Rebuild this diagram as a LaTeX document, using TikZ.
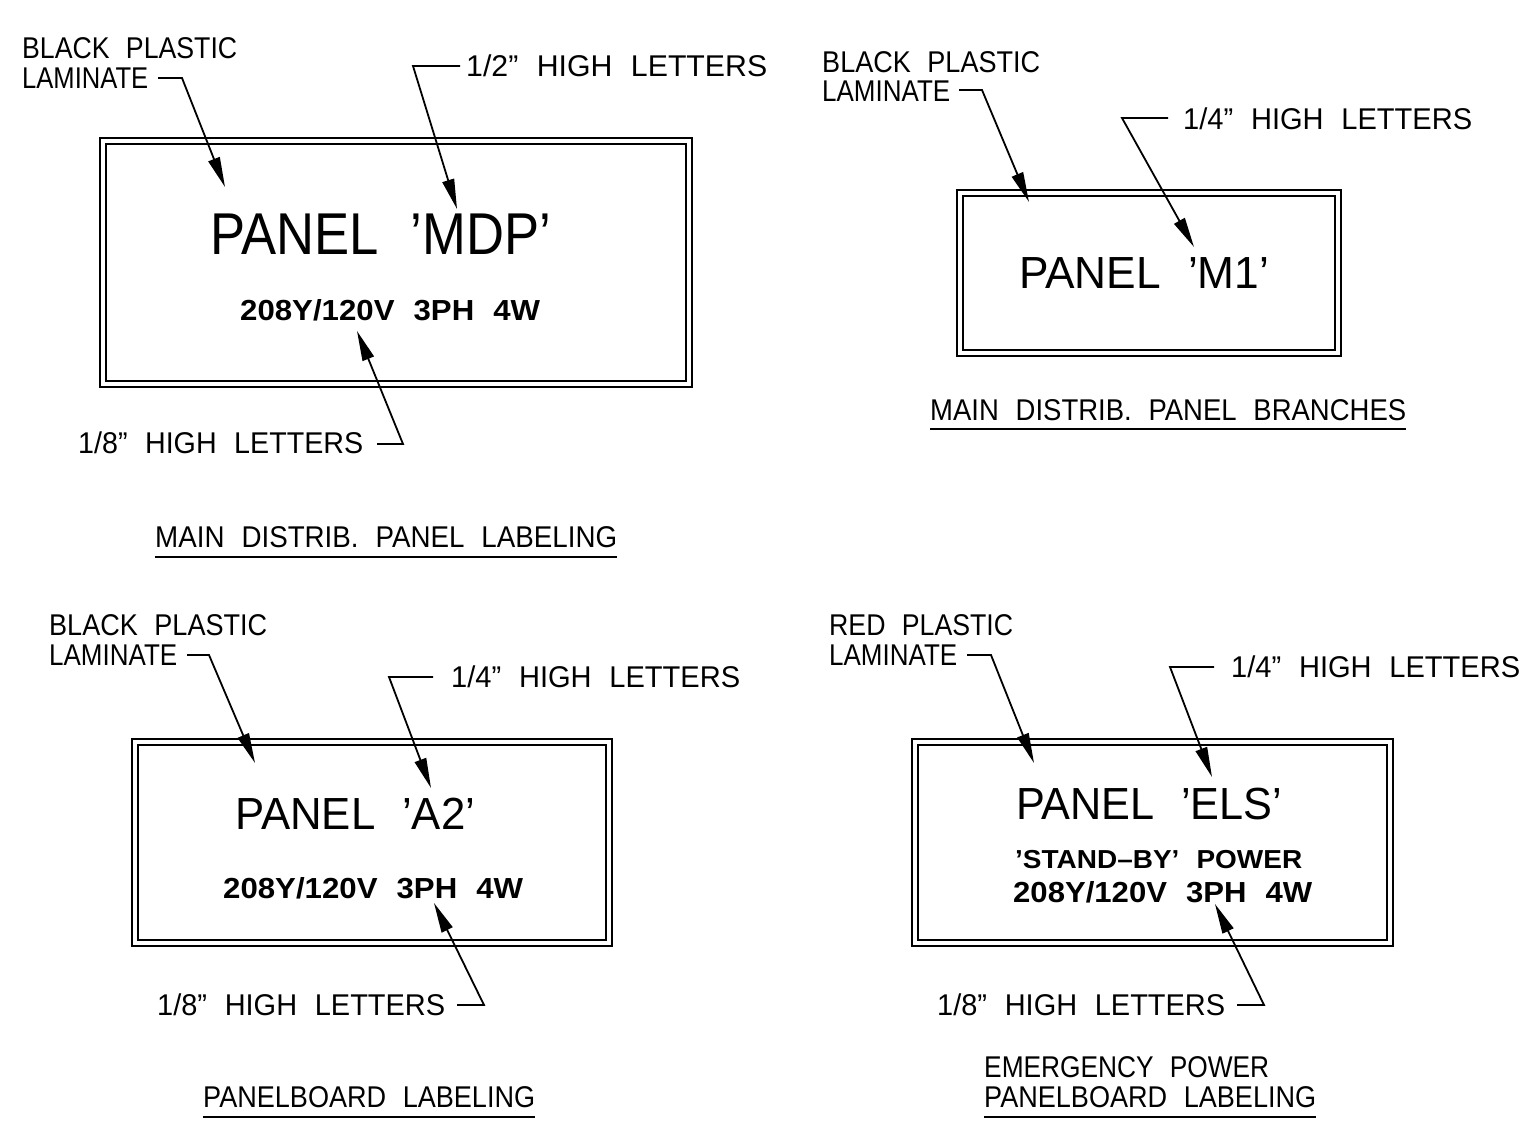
\documentclass[tikz,border=0pt]{standalone}
\usepackage{fontspec}
\setmainfont{Liberation Sans}[WordSpace=2.2]
\usetikzlibrary{arrows.meta}
\newcommand\fitw[2]{\resizebox{#1pt}{\height}{#2}}
\begin{document}
\begin{tikzpicture}[x=1pt,y=-1pt,
  lbl/.style={inner sep=0pt, anchor=base west, font=\fontsize{30}{30}\selectfont},
  boldlbl/.style={lbl, font=\fontsize{29}{29}\selectfont\bfseries},
  standby/.style={lbl, font=\fontsize{26}{26}\selectfont\bfseries},
  titleA/.style={lbl, font=\fontsize{59}{59}\selectfont},
  titleB/.style={lbl, font=\fontsize{45}{45}\selectfont},
  outerbox/.style={draw, line width=2.6pt},
  innerbox/.style={draw, line width=1.5pt},
  leader/.style={line width=1.8pt, -{Triangle[length=30pt,width=12pt]}},
  uline/.style={line width=1.8pt}]
\useasboundingbox[fill=white] (0,0) rectangle (1537,1141);

% ---------------- Panel MDP ----------------
\draw[outerbox] (100,138) rectangle (692,387);
\draw[innerbox] (106,144) rectangle (686,381);
\node[lbl] (bp1) at (22,58) {\fitw{215}{BLACK PLASTIC}};
\node[lbl] (lam1) at (22,88) {\fitw{126}{LAMINATE}};
\coordinate (a1s) at (158,78); \coordinate (a1b) at (182,78); \coordinate (a1t) at (225,187);
\draw[leader] (a1s) -- (a1b) -- (a1t);
\node[lbl] (hl1) at (466,76) {\fitw{301}{1/2” HIGH LETTERS}};
\coordinate (b1s) at (460,66); \coordinate (b1b) at (413,66); \coordinate (b1t) at (457,209);
\draw[leader] (b1s) -- (b1b) -- (b1t);
\node[titleA] (t1) at (210,254) {\fitw{341}{PANEL ’MDP’}};
\node[boldlbl] (v1) at (240,320) {\fitw{300}{208Y/120V 3PH 4W}};
\node[lbl] (el1) at (78,453) {\fitw{285}{1/8” HIGH LETTERS}};
\coordinate (c1s) at (377,444); \coordinate (c1b) at (403,444); \coordinate (c1t) at (357,331);
\draw[leader] (c1s) -- (c1b) -- (c1t);
\node[lbl] (cap1) at (155,547) {\fitw{462}{MAIN DISTRIB. PANEL LABELING}};
\draw[uline] (cap1.base west) ++(0,10) coordinate (u1a) -- ++(462,0) coordinate (u1b);

% ---------------- Panel M1 ----------------
\draw[outerbox] (957,190) rectangle (1341,356);
\draw[innerbox] (963,196) rectangle (1335,350);
\node[lbl] (bp2) at (822,72) {\fitw{218}{BLACK PLASTIC}};
\node[lbl] (lam2) at (822,101) {\fitw{128}{LAMINATE}};
\coordinate (a2s) at (959,90); \coordinate (a2b) at (982,90); \coordinate (a2t) at (1029,202);
\draw[leader] (a2s) -- (a2b) -- (a2t);
\node[lbl] (hl2) at (1183,129) {\fitw{289}{1/4” HIGH LETTERS}};
\coordinate (b2s) at (1168,118); \coordinate (b2b) at (1122,118); \coordinate (b2t) at (1194,247);
\draw[leader] (b2s) -- (b2b) -- (b2t);
\node[titleB] (t2) at (1019,288) {\fitw{250}{PANEL ’M1’}};
\node[lbl] (cap2) at (930,420) {\fitw{476}{MAIN DISTRIB. PANEL BRANCHES}};
\draw[uline] (cap2.base west) ++(0,9) coordinate (u2a) -- ++(476,0) coordinate (u2b);

% ---------------- Panel A2 ----------------
\draw[outerbox] (132,739) rectangle (612,946);
\draw[innerbox] (138,745) rectangle (606,940);
\node[lbl] (bp3) at (49,635) {\fitw{218}{BLACK PLASTIC}};
\node[lbl] (lam3) at (49,665) {\fitw{128}{LAMINATE}};
\coordinate (a3s) at (187,655); \coordinate (a3b) at (209,655); \coordinate (a3t) at (255,763);
\draw[leader] (a3s) -- (a3b) -- (a3t);
\node[lbl] (hl3) at (451,687) {\fitw{289}{1/4” HIGH LETTERS}};
\coordinate (b3s) at (433,677); \coordinate (b3b) at (389,677); \coordinate (b3t) at (431,788);
\draw[leader] (b3s) -- (b3b) -- (b3t);
\node[titleB] (t3) at (235,829) {\fitw{240}{PANEL ’A2’}};
\node[boldlbl] (v3) at (223,898) {\fitw{300}{208Y/120V 3PH 4W}};
\node[lbl] (el3) at (157,1015) {\fitw{288}{1/8” HIGH LETTERS}};
\coordinate (c3s) at (457,1005); \coordinate (c3b) at (484,1005); \coordinate (c3t) at (434,903);
\draw[leader] (c3s) -- (c3b) -- (c3t);
\node[lbl] (cap3) at (203,1107) {\fitw{332}{PANELBOARD LABELING}};
\draw[uline] (cap3.base west) ++(0,10) coordinate (u3a) -- ++(332,0) coordinate (u3b);

% ---------------- Panel ELS ----------------
\draw[outerbox] (912,739) rectangle (1393,946);
\draw[innerbox] (918,745) rectangle (1387,940);
\node[lbl] (rp4) at (829,635) {\fitw{184}{RED PLASTIC}};
\node[lbl] (lam4) at (829,665) {\fitw{128}{LAMINATE}};
\coordinate (a4s) at (967,655); \coordinate (a4b) at (991,655); \coordinate (a4t) at (1034,763);
\draw[leader] (a4s) -- (a4b) -- (a4t);
\node[lbl] (hl4) at (1231,677) {\fitw{289}{1/4” HIGH LETTERS}};
\coordinate (b4s) at (1214,667); \coordinate (b4b) at (1170,667); \coordinate (b4t) at (1212,777);
\draw[leader] (b4s) -- (b4b) -- (b4t);
\node[titleB] (t4) at (1016,819) {\fitw{266}{PANEL ’ELS’}};
\node[standby] (s4) at (1015,868) {\fitw{287}{’STAND–BY’ POWER}};
\node[boldlbl] (v4) at (1013,902) {\fitw{299}{208Y/120V 3PH 4W}};
\node[lbl] (el4) at (937,1015) {\fitw{288}{1/8” HIGH LETTERS}};
\coordinate (c4s) at (1237,1005); \coordinate (c4b) at (1264,1005); \coordinate (c4t) at (1215,904);
\draw[leader] (c4s) -- (c4b) -- (c4t);
\node[lbl] (cap4a) at (984,1077) {\fitw{285}{EMERGENCY POWER}};
\node[lbl] (cap4b) at (984,1107) {\fitw{332}{PANELBOARD LABELING}};
\draw[uline] (cap4b.base west) ++(0,10) coordinate (u4a) -- ++(332,0) coordinate (u4b);
\end{tikzpicture}
\end{document}
